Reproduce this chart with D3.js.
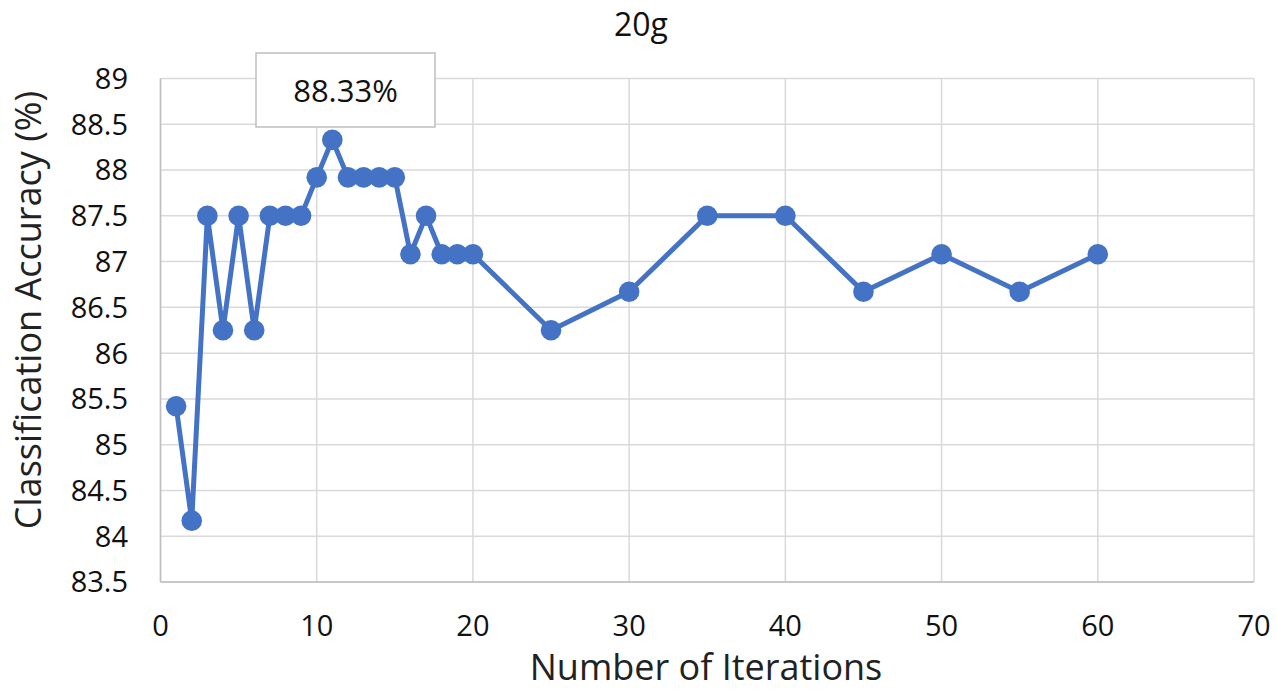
<!DOCTYPE html>
<html><head><meta charset="utf-8">
<script src="https://cdn.jsdelivr.net/npm/d3@7"></script>
<style>body{margin:0;background:#fff}svg{display:block}</style>
</head><body>
<script>
const iterations = [1,2,3,4,5,6,7,8,9,10,11,12,13,14,15,16,17,18,19,20,25,30,35,40,45,50,55,60];
const accuracy = [85.42,84.17,87.5,86.25,87.5,86.25,87.5,87.5,87.5,87.92,88.33,87.92,87.92,87.92,87.92,87.08,87.5,87.08,87.08,87.08,86.25,86.67,87.5,87.5,86.67,87.08,86.67,87.08];
const xTicks = [0,10,20,30,40,50,60,70];
const yTicks = [83.5,84,84.5,85,85.5,86,86.5,87,87.5,88,88.5,89];
const title = "20g";
const xTitle = "Number of Iterations";
const yTitle = "Classification Accuracy (%)";
const peakLabel = "88.33%";

const W=1277,H=695;
const font = "'Open Sans', 'Noto Sans', sans-serif";
const svg = d3.select("body").append("svg").attr("width",W).attr("height",H);
const x = d3.scaleLinear().domain([0,70]).range([160.5,1254]);
const y = d3.scaleLinear().domain([83.5,89]).range([582,78.5]);

const g = svg.append("g");
g.selectAll(".hg").data(yTicks).join("line")
 .attr("x1",x(0)).attr("x2",x(70)).attr("y1",d=>y(d)).attr("y2",d=>y(d))
 .attr("stroke","#d9d9d9").attr("stroke-width",1.5);
g.selectAll(".vg").data(xTicks).join("line")
 .attr("y1",y(83.5)).attr("y2",y(89)).attr("x1",d=>x(d)).attr("x2",d=>x(d))
 .attr("stroke","#d9d9d9").attr("stroke-width",1.5);
g.append("line").attr("x1",x(0)).attr("x2",x(0)).attr("y1",y(83.5)).attr("y2",y(89)).attr("stroke","#bfbfbf").attr("stroke-width",1.5);
g.append("line").attr("x1",x(0)).attr("x2",x(70)).attr("y1",y(83.5)).attr("y2",y(83.5)).attr("stroke","#bfbfbf").attr("stroke-width",1.5);

g.selectAll(".yl").data(yTicks).join("text")
 .attr("x",128).attr("y",d=>y(d)).attr("dy","0.36em").attr("text-anchor","end")
 .attr("font-family",font).attr("font-size",29).attr("fill","#111").text(d=>d);
g.selectAll(".xl").data(xTicks).join("text")
 .attr("x",d=>x(d)).attr("y",626).attr("dy","0.36em").attr("text-anchor","middle")
 .attr("font-family",font).attr("font-size",29).attr("fill","#111").text(d=>d);

svg.append("text").attr("x",641).attr("y",24).attr("dy","0.36em").attr("text-anchor","middle")
 .attr("font-family",font).attr("font-size",32).attr("fill","#111").text(title);
svg.append("text").attr("x",706).attr("y",667).attr("dy","0.36em").attr("text-anchor","middle")
 .attr("font-family",font).attr("font-size",36).attr("fill","#222").text(xTitle);
svg.append("text").attr("transform","translate(28,310) rotate(-90)").attr("dy","0.36em").attr("text-anchor","middle")
 .attr("font-family",font).attr("font-size",36).attr("fill","#222").text(yTitle);

const line = d3.line().x((d,i)=>x(iterations[i])).y(d=>y(d));
svg.append("path").datum(accuracy).attr("d",line).attr("fill","none")
 .attr("stroke","#4472c4").attr("stroke-width",5).attr("stroke-linejoin","round");
svg.selectAll(".pt").data(accuracy).join("circle")
 .attr("cx",(d,i)=>x(iterations[i])).attr("cy",d=>y(d)).attr("r",10.3).attr("fill","#4472c4");

const by = 53;
svg.append("rect").attr("x",256).attr("y",by).attr("width",179).attr("height",74)
 .attr("fill","#fff").attr("stroke","#bfbfbf").attr("stroke-width",1.5);
svg.append("text").attr("x",345.5).attr("y",by+38).attr("dy","0.36em").attr("text-anchor","middle")
 .attr("font-family",font).attr("font-size",31).attr("fill","#111").text(peakLabel);
</script>
</body></html>
